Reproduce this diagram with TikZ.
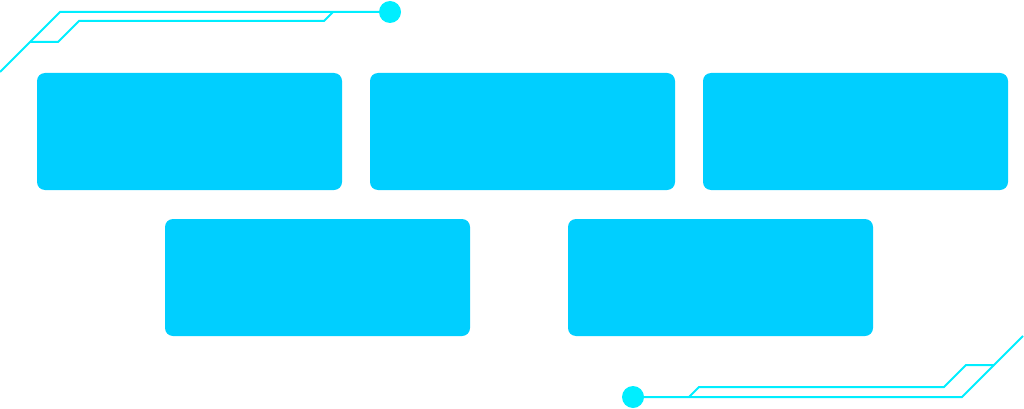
\documentclass[tikz,border=0pt]{standalone}
\definecolor{boxc}{HTML}{00CFFF}
\definecolor{linec}{HTML}{00EEFF}
\tikzset{
  card/.style={fill=boxc, draw=none, rounded corners=8pt},
  trace/.style={draw=linec, line width=2pt, line join=miter},
  dot/.style={circle, fill=linec, minimum size=22pt, inner sep=0pt, draw=none}
}
\begin{document}
\begin{tikzpicture}[x=1pt,y=-1pt]
\useasboundingbox (0,0) rectangle (1024,409);
% cards
\path[card] (37,73) rectangle (342,190);
\path[card] (370,73) rectangle (675,190);
\path[card] (703,73) rectangle (1008,190);
\path[card] (165,219) rectangle (470,336);
\path[card] (568,219) rectangle (873,336);
% top-left trace
\node[dot] (d1) at (390,12) {};
\coordinate (a0) at (0,72);
\coordinate (a1) at (60,12);
\draw[trace] (a0) -- (a1) -- (d1.center);
\draw[trace] (30,42) -- (58,42) -- (79,21) -- (324,21) -- (333,12);
% bottom-right trace
\node[dot] (d2) at (633,397) {};
\coordinate (b1) at (962,397);
\coordinate (b2) at (1023,336);
\draw[trace] (d2.center) -- (b1) -- (b2);
\draw[trace] (689,397) -- (699,387) -- (944,387) -- (966,365) -- (994,365);
\end{tikzpicture}
\end{document}
